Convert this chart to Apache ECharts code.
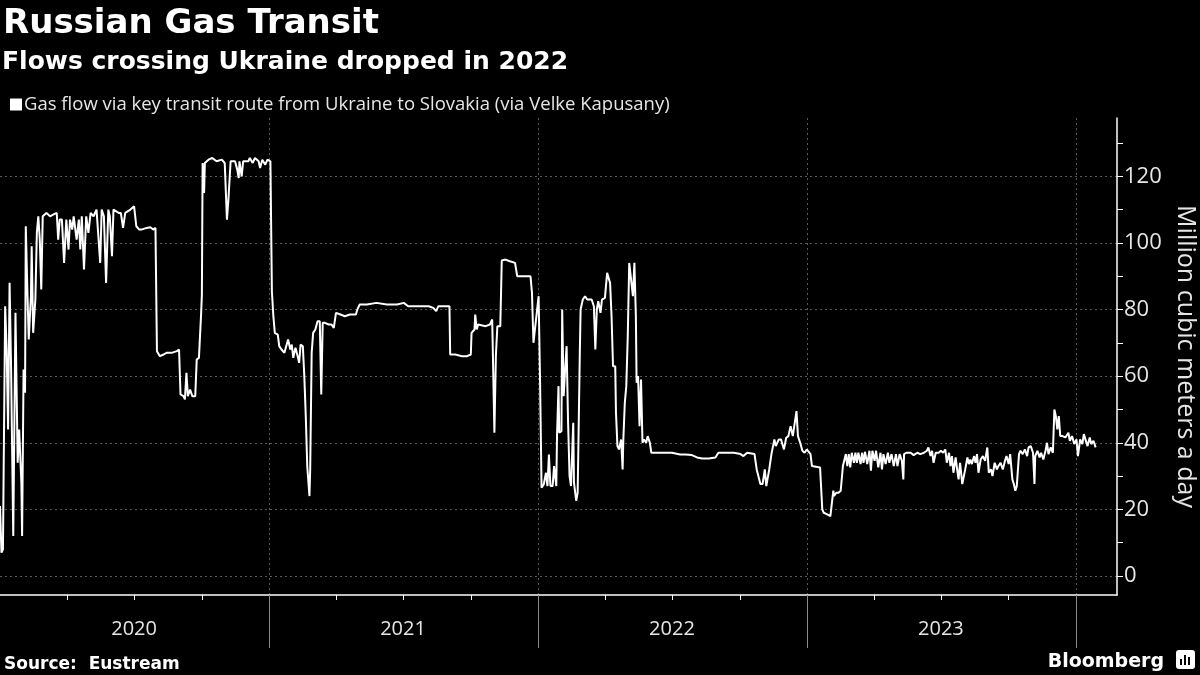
<!DOCTYPE html>
<html>
<head>
<meta charset="utf-8">
<script src="https://cdn.jsdelivr.net/npm/echarts@6/dist/echarts.min.js"></script>
<style>
html,body{margin:0;padding:0;background:#000;}
#chart{width:1200px;height:675px;}
</style>
</head>
<body>
<div id="chart"></div>
<script>
// Days since 2020-01-01 for each reading
const dayIndex = [
  0,2,4,7,9,11,13,15,18,21,
  24,26,29,30,32,34,35,37,39,42,
  43,45,48,50,52,54,56,58,63,68,
  72,77,79,81,84,87,90,93,95,98,
  100,104,107,109,111,114,117,120,123,127,
  131,136,138,141,144,147,149,152,154,161,
  164,167,170,177,182,185,189,192,199,204,
  208,211,213,217,222,226,233,240,243,245,
  249,251,253,255,258,261,265,267,270,273,
  274,275,277,278,283,288,294,301,305,308,
  310,313,319,322,324,325,328,330,337,339,
  343,346,351,353,356,360,363,367,369,371,
  373,377,379,382,386,388,391,394,396,398,
  401,404,406,408,411,413,415,417,420,421,
  423,425,428,431,434,436,438,441,446,450,
  453,456,462,468,475,483,485,488,498,511,
  525,539,548,554,563,582,588,592,595,602,
  610,611,618,627,634,639,640,644,645,647,
  649,659,665,668,669,671,673,675,679,681,
  686,692,699,702,708,715,720,722,724,726,
  729,731,733,735,738,741,743,745,747,750,
  752,755,756,758,759,762,763,765,767,769,
  771,773,775,778,779,782,784,787,788,791,
  794,797,803,806,808,810,812,815,817,821,
  824,826,828,830,832,835,836,838,840,843,
  845,846,848,850,852,854,856,859,861,863,
  864,866,868,870,872,874,877,879,882,884,
  892,901,912,923,930,939,946,953,962,971,
  975,984,996,1005,1009,1014,1024,1027,1032,1035,
  1038,1040,1044,1047,1051,1053,1057,1060,1064,1067,
  1070,1073,1076,1078,1081,1083,1086,1089,1092,1095,
  1100,1102,1104,1113,1116,1118,1122,1127,1129,1131,
  1132,1135,1138,1141,1144,1146,1148,1150,1152,1154,
  1156,1159,1161,1163,1165,1168,1170,1172,1174,1177,
  1180,1182,1184,1187,1189,1192,1195,1197,1199,1202,
  1205,1207,1210,1213,1216,1218,1221,1224,1226,1227,
  1230,1236,1240,1245,1249,1254,1258,1260,1263,1265,
  1267,1270,1274,1277,1280,1283,1285,1288,1290,1292,
  1294,1297,1299,1301,1303,1306,1308,1310,1313,1315,
  1317,1319,1322,1324,1326,1328,1331,1334,1337,1340,
  1342,1345,1347,1350,1353,1355,1358,1361,1364,1366,
  1369,1371,1374,1376,1378,1380,1383,1385,1388,1391,
  1394,1396,1399,1402,1404,1405,1408,1411,1413,1416,
  1419,1421,1423,1426,1429,1431,1433,1435,1437,1439,
  1442,1446,1450,1452,1455,1458,1461,1463,1466,1469,
  1471,1473,1476,1479,1481,1484,1487
];
// Gas flow, million cubic meters a day
const flowMcmPerDay = [
  21,7,8,81,68,44,88,63,12,79,
  34,44,28,12,62,55,105,87,71,84,
  99,73,83,103,108,101,86,108,109,108,
  108.5,109,101,107,107,94,107,98,107,104,
  108,101,107,98,108,92,108,103,109,108,
  110,94,110,108,88,110,108,96,110,109,
  109,104.5,109,110,111,105,104,104,104.5,104.7,
  104,104.5,67.5,66,66.5,67,67,67.5,68,54.5,
  54,53,61,54,56,54,54,65,65.5,79,
  84.5,124,115,124,125,125.5,124.5,125,124,107,
  113,124.5,124.5,122,119.5,124.5,120,124.5,124.5,125.5,
  124,125.5,124.5,122.5,125,123.5,125,124.5,85.5,78,
  73,72.5,69,68,67,66.5,71,68,69.5,65.5,
  68.5,66,64,69.5,69,60,48,33,24,32,
  67,73,74,76.5,76.5,54.5,76,76,75.5,75.5,
  74.5,79,78.5,78,78.5,78.5,80,81.5,81.5,82,
  81.5,81.5,82,81,81,81,80.5,79.5,81,81,
  81,66.5,66.5,66,66,66.5,73,74,78.5,74,
  75.5,75,75.5,77,66,43,66,75,75,94.7,
  95,94.5,94,90,90,90,90,85,70,69.5,
  80,84,58,26.5,27.5,31,27,36.5,27,27,
  33,27,42,57,43,43.5,80,54,62,69,
  46,30,27,46,28,22.6,25,68,80,83,
  84,83,83,81,68,80,82.5,79,83,83.5,
  91,91.5,88,78,63,63,49,39,38,41,
  32,41,52,57,72,94,94,84,94,78,
  58,60,45,59,40,41,40,42,40,37,
  37,37,37,36.5,36.5,36.3,35.6,35.3,35.3,35.6,
  37,37,37,36.6,36,37,36.6,32,27.6,27.6,
  32,27,32,36.6,41,39,41,41,38,41.5,
  42,45,42,45,49.5,42,40,37.6,37,38,
  36.6,33,32.6,32.6,20,19,18.6,18,18.6,25.6,
  24,25,25,25.6,33,33.6,36.6,33,36.6,32.6,
  37,34,37,34,37,33.6,37,34,37.3,33.6,
  37.6,31.6,37.6,34.6,37.6,32.6,37,32,36.6,33.6,
  37,34,36.6,33,36.6,33,36.6,34.6,29,36.6,
  37,37,36.3,37,36.6,37,37.6,38.6,36,37.6,
  34,37,37,37.6,37,38,34,37,33,36,
  31,35.6,32,29,34,27.6,27,32,35.6,33.6,
  35,33.6,36,34,36.6,31,35,36,34.6,38.6,
  31,32,30,34,32,33,34,32,34.6,36,
  33.6,36.6,29,27.6,25.6,27,36.6,37.6,36.6,38,
  36,38.6,39,37,27.6,36,37.6,35.6,37,35,
  37.6,40,36.6,38.6,37,50,48,44,48,42,
  42,41.6,43,40.6,42,39.6,41,36,41,39.6,
  42.6,43,39,41.6,39.6,40.6,38.6
];
const yearLabels = ['2020', '2021', '2022', '2023'];
const yLabelValues = [0, 20, 40, 60, 80, 100, 120];
const yTickValues = [0, 10, 20, 30, 40, 50, 60, 70, 80, 90, 100, 110, 120, 130];

// calendar days spanned by the time axis (2020-01-01 .. 2024-02-25)
const axisDayCount = 1517;
const dayCategories = [];
for (let i = 0; i < axisDayCount; i++) {
  dayCategories.push(new Date(Date.UTC(2020, 0, 1) + i * 864e5).toISOString().slice(0, 10));
}
const isYearStart = (i, v) => i > 0 && v.slice(5) === '01-01';
const isQuarterStart = (i, v) => ['04-01', '07-01', '10-01'].indexOf(v.slice(5)) >= 0;
const isMidYear = (i, v) => v.slice(5) === '07-01' && yearLabels.indexOf(v.slice(0, 4)) >= 0;

const seriesData = dayIndex.map((d, i) => [d, flowMcmPerDay[i]]);

const chart = echarts.init(document.getElementById('chart'), null, { renderer: 'canvas' });
const gridColor = '#5a5a5a';
chart.setOption({
  backgroundColor: '#000',
  animation: false,
  title: [
    { text: 'Russian Gas Transit', left: -2, top: 2,
      textStyle: { color: '#fff', fontFamily: 'DejaVu Sans', fontWeight: 'bold', fontSize: 34 } },
    { text: 'Flows crossing Ukraine dropped in 2022', left: -3, top: 45,
      textStyle: { color: '#fff', fontFamily: 'DejaVu Sans', fontWeight: 'bold', fontSize: 25 } },
    { text: 'Source:  Eustream', left: -1, top: 651,
      textStyle: { color: '#fff', fontFamily: 'DejaVu Sans', fontWeight: 'bold', fontSize: 17 } },
    { text: 'Bloomberg', right: 31, top: 648,
      textStyle: { color: '#fff', fontFamily: 'DejaVu Sans', fontWeight: 'bold', fontSize: 19 } }
  ],
  legend: {
    left: 5, top: 90, icon: 'rect', itemWidth: 12, itemHeight: 12, itemGap: 10,
    textStyle: { color: '#e6e6e6', fontFamily: 'Open Sans', fontSize: 18.5, padding: [0, 0, 0, -3] },
    data: ['Gas flow via key transit route from Ukraine to Slovakia (via Velke Kapusany)']
  },
  grid: { left: 0, right: 83, top: 118, bottom: 80, containLabel: false, outerBoundsMode: 'none' },
  xAxis: [
    { type: 'category', data: dayCategories, boundaryGap: false, position: 'bottom',
      axisLine: { show: true, onZero: false, lineStyle: { color: '#fff', width: 1.5 } },
      axisTick: { show: true, interval: isQuarterStart, length: 5, lineStyle: { color: '#fff' } },
      axisLabel: { show: true, interval: isMidYear, formatter: v => v.slice(0, 4), margin: 24,
        color: '#e6e6e6', fontFamily: 'Open Sans', fontSize: 20 },
      splitLine: { show: false } },
    { type: 'category', data: dayCategories, boundaryGap: false, position: 'bottom',
      axisLine: { show: false, onZero: false },
      axisTick: { show: true, interval: isYearStart, length: 53, lineStyle: { color: '#8a8a8a' } },
      axisLabel: { show: false },
      splitLine: { show: true, interval: isYearStart, lineStyle: { color: gridColor, type: [2, 3], width: 1 } } },
    { type: 'value', min: 0, max: axisDayCount - 1, show: false, axisLine: { onZero: false } }
  ],
  yAxis: [
    { type: 'value', position: 'right', min: -5.7, max: 137.5, splitNumber: 7,
      axisLine: { show: true, onZero: false, lineStyle: { color: '#fff', width: 1.5 } },
      axisTick: { show: false },
      axisLabel: { color: '#e6e6e6', fontFamily: 'Open Sans', fontSize: 22, margin: 7,
        customValues: yLabelValues },
      splitLine: { show: true, showMinLine: false, showMaxLine: false,
        lineStyle: { color: gridColor, type: [2, 3], width: 1 } },
      name: 'Million cubic meters a day', nameLocation: 'middle', nameRotate: -90, nameGap: 55,
      nameTextStyle: { color: '#e6e6e6', fontFamily: 'Open Sans', fontSize: 25 } },
    { type: 'value', position: 'right', min: -5.7, max: 137.5, splitNumber: 7,
      axisLine: { show: false, onZero: false },
      axisTick: { show: true, length: 6, customValues: yTickValues, lineStyle: { color: '#fff' } },
      axisLabel: { show: false },
      splitLine: { show: false } }
  ],
  series: [{
    name: 'Gas flow via key transit route from Ukraine to Slovakia (via Velke Kapusany)',
    type: 'line', xAxisIndex: 2, yAxisIndex: 0, data: seriesData,
    showSymbol: false, symbol: 'none',
    itemStyle: { color: '#fff' },
    lineStyle: { color: '#fff', width: 2 }
  }],
  graphic: [
    { type: 'rect', left: 1176, top: 650, shape: { width: 19, height: 19, r: 3 }, style: { fill: '#fff' } },
    { type: 'rect', left: 1180, top: 659, shape: { width: 2, height: 6 }, style: { fill: '#000' } },
    { type: 'rect', left: 1184, top: 655, shape: { width: 2, height: 10 }, style: { fill: '#000' } },
    { type: 'rect', left: 1188, top: 657, shape: { width: 2, height: 8 }, style: { fill: '#000' } }
  ]
});
</script>
</body>
</html>
